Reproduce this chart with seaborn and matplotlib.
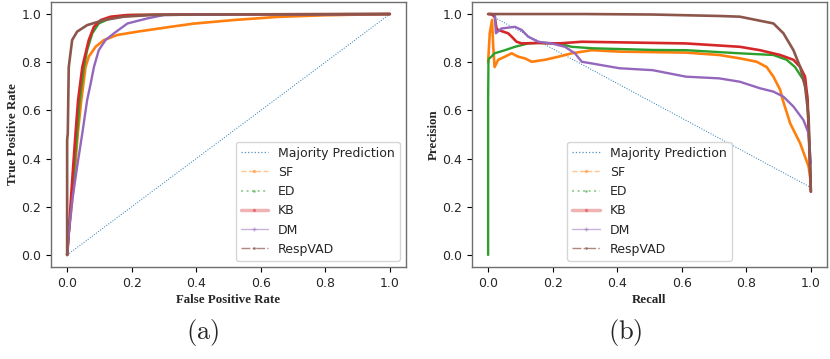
import numpy as np
import pandas as pd
import matplotlib
matplotlib.use("Agg")
import matplotlib.pyplot as plt
from matplotlib.lines import Line2D
import seaborn as sns

# ---------------- data ----------------
# ROC curves: false positive rate / true positive rate
roc_major_fpr = [0.0, 1.0]
roc_major_tpr = [0.0, 1.0]

roc_sf_fpr = [0.0, 0.005, 0.021, 0.033, 0.044, 0.057, 0.067, 0.088, 0.114, 0.155, 0.218, 0.321, 0.39, 0.515, 0.65, 0.80, 1.0]
roc_sf_tpr = [0.0, 0.09, 0.297, 0.505, 0.643, 0.78, 0.823, 0.864, 0.892, 0.913, 0.927, 0.947, 0.96, 0.975, 0.988, 0.995, 1.0]

roc_ed_fpr = [0.0, 0.005, 0.018, 0.031, 0.039, 0.052, 0.062, 0.078, 0.098, 0.145, 0.20, 0.35, 1.0]
roc_ed_tpr = [0.0, 0.09, 0.297, 0.505, 0.643, 0.78, 0.85, 0.92, 0.961, 0.989, 0.996, 0.998, 1.0]

roc_kb_fpr = [0.0, 0.005, 0.015, 0.026, 0.034, 0.047, 0.067, 0.083, 0.104, 0.135, 0.187, 0.35, 1.0]
roc_kb_tpr = [0.0, 0.09, 0.297, 0.505, 0.643, 0.78, 0.892, 0.947, 0.975, 0.989, 0.996, 0.998, 1.0]

roc_dm_fpr = [0.0, 0.005, 0.016, 0.031, 0.047, 0.062, 0.073, 0.083, 0.098, 0.119, 0.145, 0.187, 0.249, 0.30, 0.45, 1.0]
roc_dm_tpr = [0.0, 0.09, 0.228, 0.367, 0.505, 0.643, 0.712, 0.78, 0.85, 0.892, 0.92, 0.961, 0.982, 0.996, 0.998, 1.0]

roc_resp_fpr = [0.0, 0.0, 0.002, 0.005, 0.0155, 0.031, 0.062, 0.114, 0.176, 0.26, 0.40, 0.60, 1.0]
roc_resp_tpr = [0.0, 0.477, 0.505, 0.78, 0.892, 0.927, 0.954, 0.975, 0.989, 0.996, 0.998, 0.999, 1.0]

# Precision-recall curves
pr_major_rec = [0.0, 1.0]
pr_major_prec = [1.0, 0.28]

pr_sf_rec = [0.0, 0.005, 0.012, 0.016, 0.020, 0.031, 0.052, 0.073, 0.093, 0.114, 0.135, 0.176, 0.218, 0.259, 0.321, 0.407,
             0.613, 0.716, 0.78, 0.832, 0.863, 0.884, 0.905, 0.913, 0.936, 0.967, 0.993, 1.0]
pr_sf_prec = [0.80, 0.92, 0.975, 0.86, 0.78, 0.81, 0.823, 0.837, 0.823, 0.816, 0.802, 0.81, 0.823, 0.837, 0.85, 0.844,
              0.84, 0.83, 0.816, 0.802, 0.78, 0.74, 0.685, 0.643, 0.546, 0.463, 0.367, 0.30]

pr_ed_rec = [0.0, 0.0, 0.001, 0.003, 0.010, 0.020, 0.052, 0.083, 0.124, 0.155, 0.218, 0.259, 0.321, 0.51, 0.613, 0.78,
             0.884, 0.925, 0.951, 0.977, 0.988, 0.998, 1.0]
pr_ed_prec = [0.0, 0.643, 0.81, 0.815, 0.823, 0.837, 0.85, 0.864, 0.878, 0.88, 0.878, 0.864, 0.858, 0.851, 0.85, 0.837,
              0.83, 0.81, 0.78, 0.726, 0.67, 0.367, 0.27]

pr_kb_rec = [0.0, 0.01, 0.02, 0.026, 0.031, 0.062, 0.073, 0.088, 0.104, 0.155, 0.218, 0.29, 0.613, 0.78, 0.842, 0.905,
             0.946, 0.967, 0.982, 0.99, 1.0]
pr_kb_prec = [1.0, 1.0, 0.99, 0.94, 0.934, 0.92, 0.906, 0.885, 0.878, 0.88, 0.878, 0.885, 0.878, 0.864, 0.85, 0.83,
              0.81, 0.78, 0.74, 0.643, 0.263]

pr_dm_rec = [0.021, 0.024, 0.041, 0.083, 0.104, 0.124, 0.155, 0.197, 0.238, 0.269, 0.29, 0.321, 0.407, 0.51, 0.613,
             0.716, 0.78, 0.842, 0.884, 0.915, 0.946, 0.977, 0.993, 1.0]
pr_dm_prec = [1.0, 0.92, 0.94, 0.947, 0.934, 0.906, 0.885, 0.878, 0.864, 0.837, 0.802, 0.795, 0.775, 0.767, 0.74,
              0.733, 0.719, 0.692, 0.678, 0.657, 0.616, 0.56, 0.505, 0.38]

pr_resp_rec = [0.0, 0.30, 0.51, 0.716, 0.78, 0.884, 0.915, 0.946, 0.967, 0.982, 0.993, 1.0]
pr_resp_prec = [1.0, 1.0, 0.998, 0.992, 0.989, 0.961, 0.92, 0.85, 0.78, 0.70, 0.574, 0.263]

names = ["Majority Prediction", "SF", "ED", "KB", "DM", "RespVAD"]
colors = ["#1f77b4", "#ff7f0e", "#2ca02c", "#d62728", "#9467bd", "#8c564b"]

roc_series = [(roc_major_fpr, roc_major_tpr), (roc_sf_fpr, roc_sf_tpr), (roc_ed_fpr, roc_ed_tpr),
              (roc_kb_fpr, roc_kb_tpr), (roc_dm_fpr, roc_dm_tpr), (roc_resp_fpr, roc_resp_tpr)]
pr_series = [(pr_major_rec, pr_major_prec), (pr_sf_rec, pr_sf_prec), (pr_ed_rec, pr_ed_prec),
             (pr_kb_rec, pr_kb_prec), (pr_dm_rec, pr_dm_prec), (pr_resp_rec, pr_resp_prec)]

# ---------------- styling ----------------
sns.set_style("white")
plt.rcParams["font.family"] = ["DejaVu Sans"]
plt.rcParams["mathtext.fontset"] = "cm"

fig = plt.figure(figsize=(8.3, 3.59), dpi=100)
ax1 = fig.add_axes([51 / 830, 1 - 267 / 359, 355 / 830, 265 / 359])
ax2 = fig.add_axes([472 / 830, 1 - 267 / 359, 355 / 830, 265 / 359])

leg_styles = [
    dict(ls=":", lw=0.9, marker=None, alpha=0.8),
    dict(ls="--", lw=1.0, marker=".", ms=3, alpha=0.45),
    dict(ls=":", lw=1.5, marker=".", ms=2, alpha=0.45),
    dict(ls="-", lw=2.5, marker=".", ms=3, alpha=0.35),
    dict(ls="-", lw=1.0, marker="+", ms=3, alpha=0.5),
    dict(ls="-.", lw=1.0, marker=".", ms=2, alpha=0.7),
]
plot_lw = [0.7, 1.9, 1.7, 1.9, 1.7, 1.9]
plot_ls = [":", "-", "-", "-", "-", "-"]


def draw(ax, series, xlabel, ylabel, legloc):
    for i, ((x, y), name) in enumerate(zip(series, names)):
        df = pd.DataFrame({"x": x, "y": y})
        sns.lineplot(data=df, x="x", y="y", ax=ax, sort=False, estimator=None,
                     color=colors[i], lw=plot_lw[i], ls=plot_ls[i], legend=False)
    ax.set_xticks([0, 0.2, 0.4, 0.6, 0.8, 1.0])
    ax.set_yticks([0, 0.2, 0.4, 0.6, 0.8, 1.0])
    ax.set_xticklabels(["0.0", "0.2", "0.4", "0.6", "0.8", "1.0"])
    ax.set_yticklabels(["0.0", "0.2", "0.4", "0.6", "0.8", "1.0"])
    ax.set_xlim(-0.05, 1.05)
    ax.set_ylim(-0.05, 1.05)
    ax.tick_params(axis="both", labelsize=9, length=3.5, width=0.8, color="black",
                   direction="out", bottom=True, left=True)
    for s in ax.spines.values():
        s.set_color("#6e6e6e")
        s.set_linewidth(1.0)
    ax.set_xlabel(xlabel, fontsize=9.3, fontweight="bold", family="Liberation Serif", labelpad=3)
    ax.set_ylabel(ylabel, fontsize=9.3, fontweight="bold", family="Liberation Serif", labelpad=1.5)
    handles = []
    for i, name in enumerate(names):
        st = leg_styles[i]
        handles.append(Line2D([0], [0], color=colors[i], ls=st["ls"], lw=st["lw"],
                              marker=st["marker"], ms=st.get("ms", 0), alpha=st["alpha"]))
    ax.legend(handles, names, loc=legloc, fontsize=9, frameon=True, framealpha=0.8,
              edgecolor="#cccccc", handlelength=2.2, borderpad=0.4, labelspacing=0.5)


draw(ax1, roc_series, "False Positive Rate", "True Positive Rate", "lower right")
draw(ax2, pr_series, "Recall", "Precision", "lower center")

fig.text(203 / 830, 1 - 332 / 359, r"$(\mathrm{a})$", ha="center", va="center", fontsize=19)
fig.text(625 / 830, 1 - 332 / 359, r"$(\mathrm{b})$", ha="center", va="center", fontsize=19)

fig.savefig("out.png", dpi=100)
